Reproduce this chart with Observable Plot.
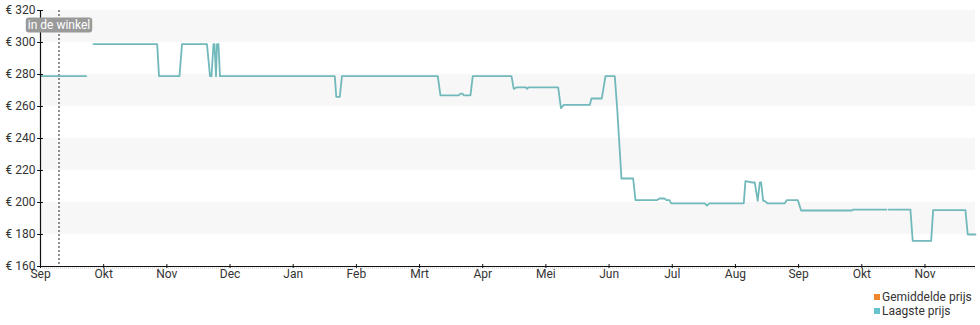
<!DOCTYPE html>
<html>
<head>
<meta charset="utf-8">
<script src="https://cdn.jsdelivr.net/npm/d3@7"></script>
<script src="https://cdn.jsdelivr.net/npm/@observablehq/plot@0.6"></script>
<style>
  body { margin: 0; background: #fff; font-family: Roboto, "Noto Sans", sans-serif; }
  #chart svg { display: block; }
  .legend-wrap { width: 980px; box-sizing: border-box; padding: 8px 0 0 874px; font-size: 12px; color: #333; line-height: 14px; white-space: nowrap; }
  .legend-wrap .row { display: flex; align-items: center; }
  .legend-wrap .sw { width: 6px; height: 6px; margin-right: 2px; display: inline-block; }
</style>
</head>
<body>
<div id="chart"></div>
<div class="legend-wrap">
  <div class="row"><span class="sw" style="background:#f0862a"></span>Gemiddelde prijs</div>
  <div class="row"><span class="sw" style="background:#66c2cc"></span>Laagste prijs</div>
</div>
<script>
// Month labels (x = months since first September)
const monthLabels = ["Sep","Okt","Nov","Dec","Jan","Feb","Mrt","Apr","Mei","Jun","Jul","Aug","Sep","Okt","Nov"];
const yTicks = [160, 180, 200, 220, 240, 260, 280, 300, 320];
const bandLow = [300, 260, 220, 180];
const bandHigh = [320, 280, 240, 200];
const storeT = [0.293];
const storeLabel = ["in de winkel"];

// Lowest price series: time in months since start, price in euro (NaN = gap)
const t = [0.000,0.723,0.780,0.839,1.847,1.876,2.200,2.240,2.635,2.683,2.707,2.738,2.754,2.778,2.794,2.817,2.841,
  4.658,4.682,4.737,4.772,6.288,6.331,6.621,6.647,6.679,6.703,6.806,6.842,7.455,7.491,7.542,7.684,7.703,7.724,
  8.194,8.238,8.283,8.694,8.721,8.884,8.943,9.090,9.128,9.196,9.381,9.418,9.761,9.798,9.877,9.908,9.956,9.983,
  10.514,10.549,10.589,11.132,11.158,11.269,11.306,11.353,11.385,11.407,11.439,11.460,11.507,11.781,11.816,
  11.987,12.040,12.848,12.860,13.390,13.408,13.427,13.770,13.806,14.098,14.130,14.641,14.677,14.799];
const price = [279,279,NaN,299,299,279,279,299,299,279,279,299,299,279,299,299,279,
  279,266,266,279,279,267,267,268,268,267,267,279,279,271,272,272,271,272,
  272,259,261,261,265,265,279,279,259,215,215,201.5,201.5,202.5,202.5,201.5,201.5,199.5,
  199.5,198,199.5,199.5,213.3,212.5,212.5,201,212.5,212.5,201,201,199.5,199.5,201.5,
  201.5,195,195,195.5,195.5,NaN,195.5,195.5,176,176,195.2,195.2,180,180];

const data = t.map((x, i) => ({t: x, price: price[i]}));
const bands = bandLow.map((lo, i) => ({lo, hi: bandHigh[i]}));
const store = storeT.map((x, i) => ({t: x, label: storeLabel[i]}));

const plot = Plot.plot({
  width: 980,
  height: 282,
  marginLeft: 40,
  marginRight: 5,
  marginTop: 10,
  marginBottom: 16,
  style: {fontFamily: "Roboto, sans-serif", fontSize: "12px", color: "#333", background: "#fff"},
  x: {type: "linear", domain: [0, 14.8]},
  y: {domain: [160, 320]},
  marks: [
    Plot.rect(bands, {y1: "lo", y2: "hi", fill: "#f7f7f7"}),
    Plot.ruleY([160], {stroke: "#c8c8c8", strokeDasharray: "1,1", dy: 1.5}),
    Plot.ruleX(store, {x: "t", stroke: "#222", strokeDasharray: "2,2", strokeWidth: 1}),
    Plot.line(data, {x: "t", y: "price", stroke: "#72b9bc", strokeWidth: 1.8}),
    Plot.ruleY([160], {stroke: "#111", strokeWidth: 1.2}),
    Plot.ruleX([0], {stroke: "#111", strokeWidth: 1.2}),
    Plot.axisY({ticks: yTicks, tickFormat: d => "€ " + d, tickSize: 3, tickPadding: 2, label: null, stroke: "#111", fill: "#333", fontSize: 12}),
    Plot.axisY({ticks: yTicks, tickFormat: () => "", tickSize: -3, label: null, stroke: "#111"}),
    Plot.axisX({ticks: d3.range(monthLabels.length), tickFormat: i => monthLabels[i], tickSize: 2, tickPadding: 1, label: null, stroke: "#111", fill: "#333", fontSize: 12}),
    Plot.axisX({ticks: d3.range(monthLabels.length), tickFormat: () => "", tickSize: -2, label: null, stroke: "#111"}),
    Plot.text(store, {x: "t", text: "label", frameAnchor: "top", dy: 10, fill: "#fff", fontSize: 12})
  ]
});
document.getElementById("chart").appendChild(plot);

// grey rounded box behind the store label
d3.select(plot).selectAll("text").filter(function() { return storeLabel.includes(this.textContent); }).each(function() {
  const b = this.getBBox();
  d3.select(this.parentNode).insert("rect", () => this)
    .attr("transform", this.getAttribute("transform"))
    .attr("x", b.x - 2).attr("y", b.y - 0.5)
    .attr("width", b.width + 4).attr("height", b.height + 1)
    .attr("rx", 3).attr("fill", "#9a9a9a");
});
</script>
</body>
</html>
